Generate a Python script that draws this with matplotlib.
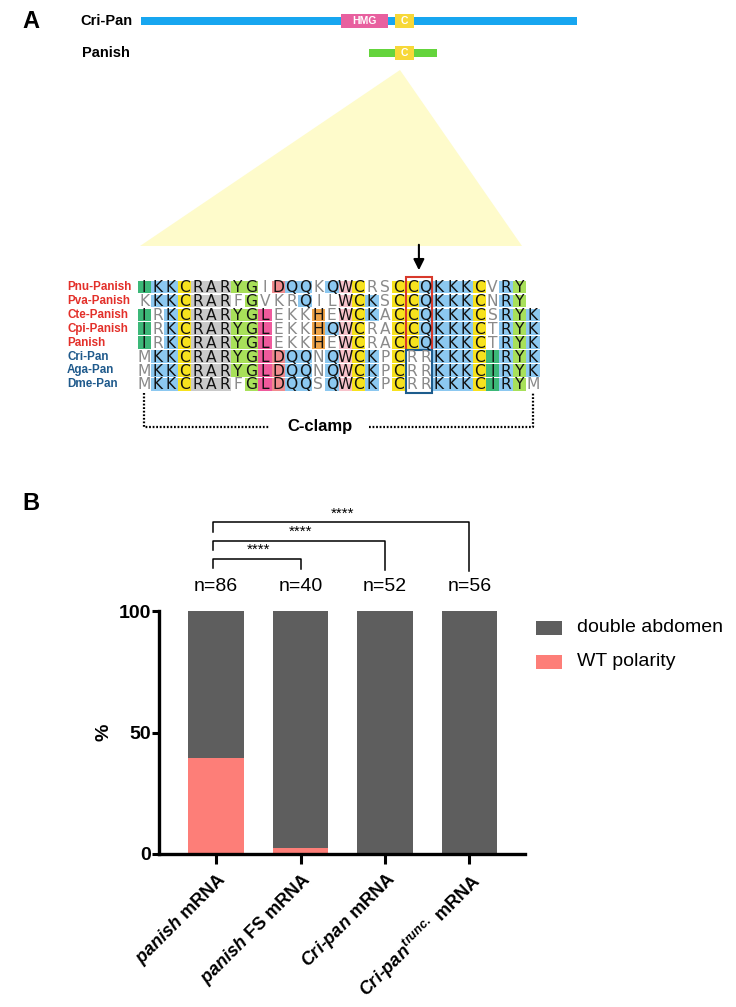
import matplotlib
matplotlib.use('Agg')
import matplotlib.pyplot as plt
from matplotlib.patches import Rectangle, Polygon

plt.rcParams['font.family'] = ['Liberation Sans', 'DejaVu Sans']
plt.rcParams['mathtext.fontset'] = 'custom'
plt.rcParams['mathtext.rm'] = 'Liberation Sans:bold'
plt.rcParams['mathtext.it'] = 'Liberation Sans:italic:bold'
plt.rcParams['mathtext.bf'] = 'Liberation Sans:bold'

# ---- panel A data ----
proteins = ['Cri-Pan', 'Panish']
protein_span = [(141, 577), (369, 437)]
protein_color = ['#17a6f0', '#64d43c']
domains = [[('HMG', 341, 388, '#e8609f'), ('C', 395, 414, '#f7d838')],
           [('C', 395, 414, '#f7d838')]]

species = ['Pnu-Panish', 'Pva-Panish', 'Cte-Panish', 'Cpi-Panish', 'Panish',
           'Cri-Pan', 'Aga-Pan', 'Dme-Pan']
species_color = ['#e3302a'] * 5 + ['#1f5a8c'] * 3
seqs = ['IKKCRARYGIDQQKQWCRSCCQKKKCVRY',
        'KKKCRARFGVKRQILWCKSCCQKKKCNRY',
        'IRKCRARYGLEKKHEWCKACCQKKKCSRYK',
        'IRKCRARYGLEKKHQWCRACCQKKKCTRYK',
        'IRKCRARYGLEKKHEWCRACCQKKKCTRYK',
        'MKKCRARYGLDQQNQWCKPCRRKKKCIRYK',
        'MKKCRARYGLDQQNQWCKPCRRKKKCIRYK',
        'MKKCRARFGLDQQSQWCKPCRRKKKCIRYM']
shading = ['gbbyrrrll.sbb.bpy..yybbbby.bl',
           '.bbyrrr.l...b..pyb.yybbbby.bl',
           'g.byrrrllm...o.pyb.yybbbby.blb',
           'g.byrrrllm...obpy..yybbbby.blb',
           'g.byrrrllm...o.py..yybbbby.blb',
           '.bbyrrrllmsbb.bpyb.y..bbbygblb',
           '.bbyrrrllmsbb.bpyb.y..bbbygblb',
           '.bbyrrr.lmsbb.bpyb.y..bbbygbl.']
shade_colors = {'g': '#3cb878', 'b': '#8cc8f0', 'y': '#f7e21e', 'r': '#c9c9c9',
                'l': '#a8e05a', 'm': '#ef5a9c', 's': '#f08c8e', 'o': '#f0a448',
                'p': '#f7c2ca'}

# ---- panel B data ----
groups = ['panish mRNA', 'panish FS mRNA', 'Cri-pan mRNA', 'Cri-pan trunc. mRNA']
group_labels = [r'$panish$ mRNA', r'$panish$ FS mRNA', r'$Cri$-$pan$ mRNA',
                r'$Cri$-$pan^{trunc.}$ mRNA']
n_embryos = [86, 40, 52, 56]
wt_polarity = [39.5, 2.5, 0, 0]
double_abdomen = [60.5, 97.5, 100, 100]
comparisons = [(0, 1), (0, 2), (0, 3)]
signif = ['****', '****', '****']

fig = plt.figure(figsize=(7.36, 10.07), dpi=100)
ax0 = fig.add_axes([0, 0, 1, 1])
ax0.set_xlim(0, 736)
ax0.set_ylim(1007, 0)
ax0.axis('off')

# domain schematic
ax0.text(22, 21, 'A', fontsize=17, fontweight='bold', va='center', ha='left')
ax0.text(22, 503, 'B', fontsize=17, fontweight='bold', va='center', ha='left')
rows_y = [21, 53]
label_x = [80, 82]
for name, (x0, x1), col, doms, y, lx in zip(proteins, protein_span, protein_color,
                                            domains, rows_y, label_x):
    ax0.text(lx, y, name, fontsize=10.5, fontweight='bold', va='center', ha='left')
    ax0.add_patch(Rectangle((x0, y - 4), x1 - x0, 8, color=col, lw=0))
    for dname, d0, d1, dcol in doms:
        ax0.add_patch(Rectangle((d0, y - 7), d1 - d0, 14, color=dcol, lw=0))
        ax0.text((d0 + d1) / 2, y, dname, fontsize=7.5, fontweight='bold',
                 color='white', ha='center', va='center')

ax0.add_patch(Polygon([(400, 70), (140, 246), (522, 246)], closed=True,
                      color='#fefbcb', lw=0))

# alignment
col0 = 137.5
cw = 13.4
row0 = 287
rh = 13.9
for i, (sp, spc, seq, sh) in enumerate(zip(species, species_color, seqs, shading)):
    yc = row0 + i * rh
    ax0.text(67, yc, sp, fontsize=8.4, fontweight='bold', color=spc,
             ha='left', va='center')
    for j, (aa, s) in enumerate(zip(seq, sh)):
        x = col0 + j * cw
        if s != '.':
            ax0.add_patch(Rectangle((x, yc - rh / 2 + 0.7), cw, rh - 1.4,
                                    color=shade_colors[s], lw=0))
        ax0.text(x + cw / 2, yc + 0.6, aa, family='DejaVu Sans', fontsize=11.2,
                 color='#111111' if s != '.' else '#8a8a8a',
                 ha='center', va='center')

box_x = col0 + 20 * cw
ax0.add_patch(Rectangle((box_x, row0 - rh / 2 - 3), 2 * cw, 5 * rh + 3,
                        fill=False, edgecolor='#d8392b', lw=1.5))
ax0.add_patch(Rectangle((box_x, row0 - rh / 2 + 5 * rh), 2 * cw, 3 * rh + 2,
                        fill=False, edgecolor='#1d5c8c', lw=1.5))
ax0.annotate('', xy=(box_x + cw, 273), xytext=(box_x + cw, 242),
             arrowprops=dict(arrowstyle='-|>', color='black', lw=1.5,
                             mutation_scale=16))

# C-clamp bracket
lx = col0 + cw / 2
rx = col0 + 29.5 * cw
dots = dict(color='black', lw=1.6, linestyle=(0, (0.8, 0.8)), dash_capstyle='butt')
ax0.plot([lx, lx, 270], [393, 427, 427], **dots)
ax0.plot([369, rx, rx], [427, 427, 393], **dots)
ax0.text(320, 427, 'C-clamp', fontsize=12, fontweight='bold', ha='center',
         va='center')

# ---- panel B bar chart ----
ax = fig.add_axes([159 / 736, (1007 - 854) / 1007, (525 - 159) / 736,
                   (854 - 611) / 1007])
ax.patch.set_alpha(0)
xs = list(range(len(groups)))
ax.bar(xs, wt_polarity, width=0.66, color='#fd7e78', label='WT polarity')
ax.bar(xs, double_abdomen, width=0.66, bottom=wt_polarity, color='#5e5e5e',
       label='double abdomen')
ax.set_xlim(-0.675, 3.657)
ax.set_ylim(0, 100)
ax.set_yticks([0, 50, 100])
ax.set_yticklabels(['0', '50', '100'], fontsize=14, fontweight='bold')
ax.set_xticks(xs)
ax.set_xticklabels(group_labels, fontsize=13, fontweight='bold', rotation=45,
                   ha='right', va='top', rotation_mode='anchor')
ax.tick_params(axis='y', length=5, width=2.2, pad=1)
ax.tick_params(axis='x', length=7, width=2.2, pad=4)
for s in ['top', 'right']:
    ax.spines[s].set_visible(False)
for s in ['left', 'bottom']:
    ax.spines[s].set_linewidth(2.4)
ax.set_ylabel('%', fontsize=14, fontweight='bold', labelpad=4)

for x, n in zip(xs, n_embryos):
    ax.text(x, 110, 'n=%d' % n, fontsize=14, ha='center', va='center',
            clip_on=False)

br_y = [121.5, 129, 136.5]
br_right = [117.2, 116.8, 116.4]
for (a, b), st, y, yr in zip(comparisons, signif, br_y, br_right):
    ax.plot([a - 0.03, a - 0.03, b, b], [y - 4, y, y, yr], color='black', lw=1.1,
            clip_on=False)
    ax.text((a + b) / 2, y + 0.8, st, fontsize=11, ha='center', va='bottom',
            clip_on=False)

# legend
leg_items = [('double abdomen', '#5e5e5e', 628), ('WT polarity', '#fd7e78', 662)]
for txt, col, y in leg_items:
    ax0.add_patch(Rectangle((536, y - 7), 26, 14, color=col, lw=0))
    ax0.text(577, y, txt, fontsize=14, ha='left', va='center')

fig.savefig('out.png', dpi=100)
